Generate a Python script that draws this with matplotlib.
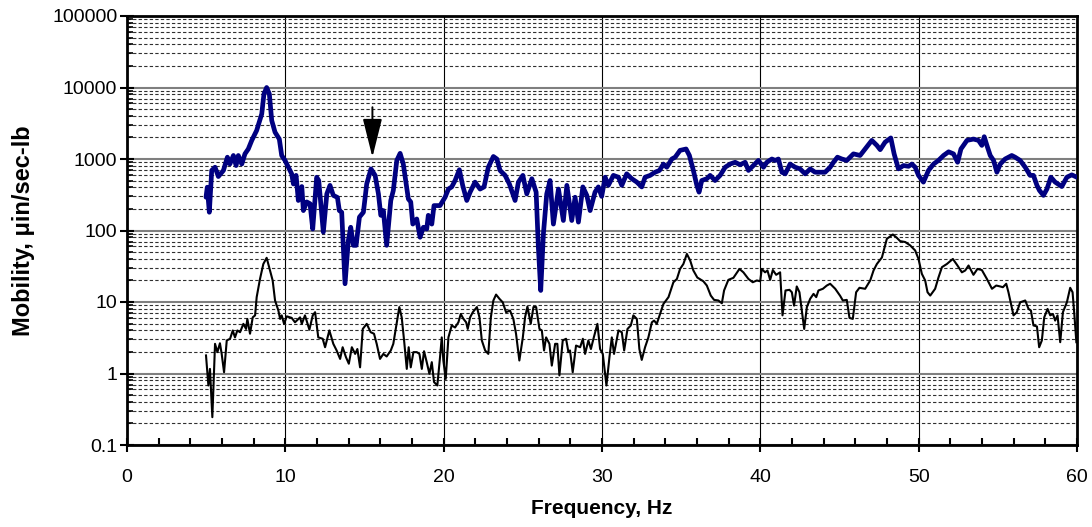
import matplotlib
matplotlib.use("Agg")
import matplotlib.pyplot as plt
from matplotlib.ticker import FixedLocator, FixedFormatter, MultipleLocator, LogLocator, NullFormatter

plt.rcParams['font.family'] = ['Liberation Sans', 'DejaVu Sans']

# Upper trace (heavy blue)
freq_upper = [
    4.99, 5.07, 5.2, 5.35, 5.56, 5.77, 6.09, 6.34, 6.5, 6.72, 6.89, 7.03, 7.25, 7.45,
    7.66, 7.88, 8.19, 8.51, 8.65, 8.82, 8.99, 9.14, 9.35, 9.62, 9.77, 9.98, 10.19, 10.4,
    10.51, 10.68, 10.82, 11.04, 11.14, 11.35, 11.56, 11.73, 11.98, 12.11, 12.4, 12.62,
    12.82, 13.03, 13.29, 13.41, 13.56, 13.77, 13.98, 14.13, 14.3, 14.47, 14.68, 14.93,
    15.14, 15.41, 15.67, 15.88, 16.03, 16.19, 16.4, 16.66, 16.82, 17.04, 17.25, 17.45,
    17.77, 17.92, 18.05, 18.3, 18.51, 18.72, 18.93, 19.03, 19.25, 19.39, 19.77, 20.09,
    20.3, 20.51, 20.72, 20.99, 21.2, 21.46, 21.67, 21.98, 22.3, 22.55, 22.82, 23.14,
    23.36, 23.56, 23.88, 24.15, 24.51, 24.72, 25.0, 25.25, 25.57, 25.84, 25.98, 26.13,
    26.3, 26.51, 26.72, 26.93, 27.25, 27.56, 27.78, 28.09, 28.3, 28.51, 28.79, 29.04,
    29.25, 29.56, 29.77, 29.98, 30.2, 30.4, 30.72, 31.04, 31.25, 31.56, 31.88, 32.2,
    32.51, 32.72, 33.04, 33.35, 33.63, 33.88, 34.09, 34.41, 34.62, 34.93, 35.31, 35.52,
    35.77, 35.99, 36.13, 36.3, 36.62, 36.83, 37.14, 37.46, 37.78, 38.09, 38.41, 38.72,
    39.04, 39.25, 39.56, 39.88, 40.2, 40.41, 40.73, 40.94, 41.14, 41.36, 41.57, 41.88,
    42.2, 42.51, 42.83, 43.15, 43.46, 43.78, 44.09, 44.41, 44.62, 44.87, 45.15, 45.46,
    45.88, 46.3, 46.62, 47.04, 47.36, 47.57, 47.88, 48.24, 48.45, 48.72, 49.04, 49.36,
    49.57, 49.78, 49.99, 50.3, 50.62, 50.94, 51.25, 51.57, 51.89, 52.2, 52.46, 52.67,
    53.05, 53.46, 53.78, 53.99, 54.14, 54.31, 54.52, 54.73, 54.94, 55.15, 55.46, 55.67,
    55.88, 56.09, 56.41, 56.73, 57.04, 57.25, 57.47, 57.63, 57.88, 58.1, 58.35, 58.62,
    59.04, 59.36, 59.67, 59.99,
]
mobility_upper = [
    292, 403, 180, 692, 767, 569, 692, 1060, 850, 1120, 810, 1120, 850, 1180,
    1380, 1820, 2510, 4270, 8130, 10000, 8130, 3460, 2370, 1900, 1120, 955, 767, 620,
    448, 590, 263, 412, 190, 251, 237, 105, 556, 500, 95, 325,
    428, 310, 290, 190, 180, 18, 72.6, 111, 62, 62, 154, 180,
    448, 727, 590, 325, 163, 190, 62, 263, 363, 955, 1200, 850,
    276, 251, 123, 145, 80.5, 111, 105, 163, 123, 223, 223, 292,
    380, 407, 500, 707, 428, 263, 344, 475, 380, 407, 767, 1084,
    1000, 692, 590, 448, 263, 475, 590, 325, 530, 344, 59, 14.5,
    90, 325, 500, 123, 380, 138, 428, 138, 292, 131, 407, 310,
    190, 344, 407, 300, 556, 428, 590, 556, 428, 620, 530, 475,
    407, 556, 590, 653, 692, 850, 767, 1000, 1060, 1320, 1380, 1120,
    692, 428, 344, 500, 530, 590, 500, 590, 767, 850, 900, 830,
    900, 692, 810, 955, 767, 900, 1000, 955, 1000, 653, 620, 850,
    767, 727, 620, 727, 653, 653, 653, 767, 900, 1060, 1000, 955,
    1180, 1120, 1380, 1820, 1550, 1350, 1720, 1970, 1180, 727, 810, 790,
    850, 767, 590, 475, 692, 850, 955, 1120, 1260, 1180, 900, 1380,
    1820, 1900, 1820, 1550, 2050, 1550, 1120, 955, 653, 850, 1000, 1060,
    1120, 1060, 955, 767, 590, 590, 428, 363, 310, 380, 556, 475,
    412, 556, 600, 556,
]

# Lower trace (thin black)
freq_lower = [
    4.99, 5.14, 5.24, 5.39, 5.56, 5.71, 5.87, 5.98, 6.13, 6.3, 6.51, 6.68, 6.82, 6.97,
    7.14, 7.35, 7.52, 7.6, 7.77, 7.94, 8.09, 8.19, 8.4, 8.61, 8.82, 9.03, 9.2, 9.35,
    9.56, 9.67, 9.77, 9.92, 10.09, 10.4, 10.61, 10.93, 11.04, 11.24, 11.52, 11.73, 11.88,
    12.08, 12.36, 12.51, 12.78, 13.03, 13.24, 13.46, 13.62, 13.83, 14.01, 14.2, 14.41,
    14.55, 14.72, 14.89, 15.14, 15.39, 15.6, 15.77, 15.98, 16.19, 16.4, 16.66, 16.82,
    16.99, 17.2, 17.35, 17.5, 17.67, 17.79, 17.92, 18.09, 18.3, 18.47, 18.62, 18.76,
    18.93, 19.1, 19.25, 19.39, 19.6, 19.77, 19.88, 19.98, 20.13, 20.3, 20.51, 20.72,
    20.93, 21.08, 21.25, 21.42, 21.52, 21.67, 21.84, 22.1, 22.26, 22.41, 22.62, 22.82,
    22.98, 23.14, 23.31, 23.52, 23.73, 23.94, 24.19, 24.4, 24.57, 24.78, 25.0, 25.14,
    25.29, 25.5, 25.67, 25.84, 26.05, 26.2, 26.34, 26.47, 26.68, 26.83, 27.04, 27.18,
    27.31, 27.52, 27.73, 27.88, 27.98, 28.15, 28.36, 28.62, 28.79, 28.93, 29.14, 29.3,
    29.46, 29.71, 29.88, 30.05, 30.28, 30.47, 30.62, 30.76, 31.04, 31.25, 31.4, 31.61,
    31.82, 31.98, 32.2, 32.36, 32.51, 32.72, 32.93, 33.15, 33.29, 33.46, 33.67, 33.88,
    34.2, 34.51, 34.73, 34.93, 35.14, 35.36, 35.57, 35.77, 36.02, 36.4, 36.62, 36.87,
    37.08, 37.35, 37.57, 37.71, 37.98, 38.3, 38.68, 38.93, 39.25, 39.52, 39.78, 39.99,
    40.09, 40.3, 40.45, 40.62, 40.79, 41.0, 41.25, 41.4, 41.59, 41.84, 41.99, 42.13,
    42.3, 42.47, 42.62, 42.77, 42.94, 43.15, 43.36, 43.53, 43.67, 43.95, 44.2, 44.41,
    44.73, 45.04, 45.21, 45.46, 45.63, 45.84, 46.05, 46.26, 46.62, 46.94, 47.15, 47.36,
    47.68, 47.99, 48.37, 48.62, 48.83, 49.15, 49.46, 49.78, 49.99, 50.2, 50.41, 50.56,
    50.73, 51.04, 51.25, 51.47, 51.78, 52.16, 52.45, 52.73, 52.94, 53.15, 53.46, 53.71,
    53.99, 54.31, 54.63, 54.9, 55.15, 55.32, 55.53, 55.67, 55.83, 55.99, 56.2, 56.41,
    56.73, 56.94, 57.09, 57.25, 57.47, 57.61, 57.78, 57.93, 58.14, 58.31, 58.48, 58.62,
    58.77, 58.94, 59.11, 59.36, 59.57, 59.72, 59.83, 59.96,
]
mobility_lower = [
    1.79, 0.68, 1.16, 0.245, 2.6, 1.99, 2.65, 1.88, 1.04, 2.9, 3.06, 4.0, 3.2, 4.0,
    3.78, 4.95, 4.2, 5.8, 3.6, 6.1, 6.5, 11.7, 21, 34, 41.5, 27.6, 20, 10.5,
    7.6, 5.8, 6.5, 4.95, 6.3, 6.0, 5.2, 6.1, 4.95, 6.5, 4.1, 6.5, 7.2,
    3.2, 3.06, 2.33, 4.0, 2.6, 2.1, 1.6, 2.33, 1.69, 1.37, 2.33, 1.88,
    2.2, 1.22, 4.2, 4.95, 3.78, 3.6, 2.6, 1.6, 1.88, 1.73, 2.1, 2.6,
    4.4, 8.5, 6.1, 2.9, 1.16, 2.33, 1.22, 1.99, 1.99, 1.88, 1.16, 2.05,
    1.44, 0.99, 1.44, 0.76, 0.68, 1.69, 3.2, 1.52, 0.84, 3.2, 4.7, 4.4,
    5.2, 6.8, 5.8, 5.2, 4.2, 6.1, 7.2, 8.5, 6.1, 2.9, 2.1, 1.88,
    6.1, 10.5, 12.7, 11.1, 9.9, 7.2, 7.6, 5.8, 3.6, 1.52, 3.2, 6.1,
    8.65, 4.95, 8.5, 8.5, 4.2, 4.0, 2.1, 3.2, 2.6, 1.29, 2.6, 2.6,
    0.94, 2.9, 3.06, 1.99, 2.1, 1.04, 2.46, 2.33, 3.06, 1.88, 2.9, 2.2,
    3.06, 4.95, 2.2, 1.88, 0.68, 1.69, 3.2, 1.88, 4.0, 3.78, 2.1, 4.2,
    4.7, 6.5, 5.8, 2.2, 1.55, 2.33, 3.2, 5.2, 5.5, 4.95, 6.8, 9.4,
    11.7, 18.9, 21, 29, 34, 47, 38, 27.6, 22, 19.5, 17, 12.3,
    10.7, 10.5, 9.6, 14.5, 20.4, 21.8, 29, 26, 21, 18.9, 20, 19.5,
    29, 26, 27.6, 20.4, 28, 24, 26, 6.5, 14.5, 14.8, 13.7, 8.9,
    16.5, 13.7, 7.6, 4.2, 8.5, 11.1, 13, 11.7, 14.5, 15.3, 17, 18,
    15.3, 12.2, 10.5, 10.7, 6.0, 5.8, 13.7, 15.8, 15.3, 20, 27.6, 34,
    42, 76.5, 88, 79, 71, 69, 62, 52.5, 40, 24.8, 20, 13.7,
    12.3, 15.3, 22, 30.7, 34, 40, 32.4, 26, 27.6, 32.4, 24, 29,
    28, 21, 15.3, 17, 16.5, 16.1, 18, 13.7, 9.4, 6.5, 7.2, 9.9,
    10.5, 8.0, 7.6, 4.7, 4.55, 2.33, 2.9, 6.1, 8.0, 6.5, 6.8, 5.5,
    6.5, 2.74, 7.2, 9.9, 15.8, 13.7, 6.8, 2.74,
]

# Axis ticks and labels
x_major_ticks = [0, 10, 20, 30, 40, 50, 60]
y_major_ticks = [0.1, 1, 10, 100, 1000, 10000, 100000]
y_tick_labels = ["0.1", "1", "10", "100", "1000", "10000", "100000"]

# Marked peak
arrow_freq = 15.5
arrow_tail = 5300
arrow_tip = 1060

fig = plt.figure(figsize=(10.92, 5.27), dpi=100)
ax = fig.add_axes([127 / 1092, 82 / 527, 950 / 1092, 429 / 527])

ax.set_yscale('log')
ax.set_xlim(0, 60)
ax.set_ylim(0.1, 100000)

ax.plot(freq_upper, mobility_upper, color='#000080', lw=3.4,
        solid_joinstyle='round', solid_capstyle='round', zorder=3)
ax.plot(freq_lower, mobility_lower, color='black', lw=1.5,
        solid_joinstyle='round', zorder=3)

ax.annotate('', xy=(arrow_freq, arrow_tip), xytext=(arrow_freq, arrow_tail),
            arrowprops=dict(arrowstyle='-|>,head_length=1.2,head_width=0.3',
                            mutation_scale=20, lw=1.4, color='black',
                            shrinkA=0, shrinkB=0), zorder=4)

# Ticks
ax.xaxis.set_major_locator(FixedLocator(x_major_ticks))
ax.xaxis.set_minor_locator(MultipleLocator(2))
ax.yaxis.set_major_locator(FixedLocator(y_major_ticks))
ax.yaxis.set_major_formatter(FixedFormatter(y_tick_labels))
ax.yaxis.set_minor_locator(LogLocator(base=10, subs=range(2, 10), numticks=20))
ax.yaxis.set_minor_formatter(NullFormatter())

ax.tick_params(axis='x', which='major', direction='inout', length=10, width=1.5,
               labelsize=14, pad=12)
ax.tick_params(axis='x', which='minor', direction='in', length=5, width=1.5)
ax.tick_params(axis='y', which='major', direction='inout', length=10, width=1.5,
               labelsize=14, pad=2)
ax.tick_params(axis='y', which='minor', direction='in', length=4, width=1.2)

# Grid
ax.set_axisbelow(True)
ax.yaxis.grid(True, which='major', color='#7f7f7f', lw=1.5, ls='-')
ax.yaxis.grid(True, which='minor', color='#303030', lw=0.8, ls=(0, (3, 2)))
ax.xaxis.grid(True, which='major', color='black', lw=0.8, ls='-')

for s in ax.spines.values():
    s.set_linewidth(2)
    s.set_color('black')

ax.set_xlabel('Frequency, Hz', fontsize=15, fontweight='bold', labelpad=10)
ax.set_ylabel('Mobility, μin/sec-lb', fontsize=17, fontweight='bold', labelpad=12)

fig.savefig('out.png', dpi=100)
